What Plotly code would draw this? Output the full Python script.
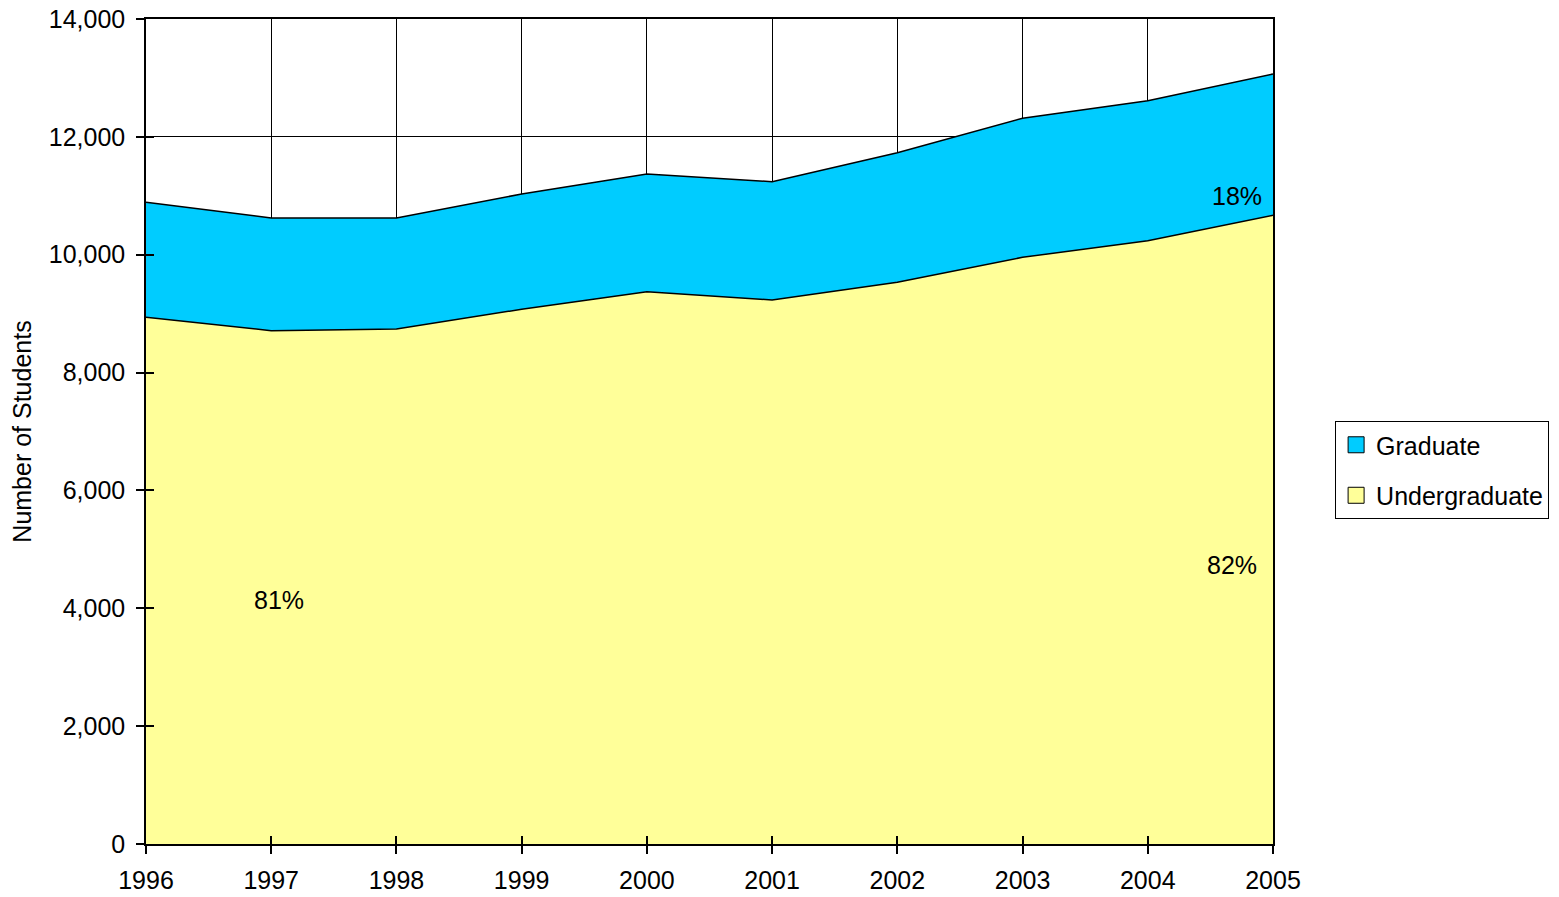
import plotly.graph_objects as go

years = [1996, 1997, 1998, 1999, 2000, 2001, 2002, 2003, 2004, 2005]
undergraduate = [8938, 8711, 8740, 9074, 9373, 9232, 9532, 9956, 10238, 10669]
graduate = [1951, 1912, 1883, 1956, 1997, 2007, 2199, 2359, 2376, 2398]

label_text = ["81%", "82%", "18%"]
label_x = [1997.06, 2004.67, 2004.71]
label_y = [4140, 4735, 10996]

y_ticks = [0, 2000, 4000, 6000, 8000, 10000, 12000, 14000]
y_tick_text = ["0", "2,000", "4,000", "6,000", "8,000", "10,000", "12,000", "14,000"]

FONT = "Liberation Sans, Arial, sans-serif"
FS = 25
UG_COLOR = "#FFFF99"
GR_COLOR = "#00CCFF"

fig = go.Figure()
fig.add_trace(go.Scatter(
    x=years, y=undergraduate, name="Undergraduate", mode="lines",
    stackgroup="one", line=dict(color="black", width=1.5),
    fillcolor=UG_COLOR, showlegend=False,
))
fig.add_trace(go.Scatter(
    x=years, y=graduate, name="Graduate", mode="lines",
    stackgroup="one", line=dict(color="black", width=1.5),
    fillcolor=GR_COLOR, showlegend=False,
))

# legend entries (square swatches)
fig.add_trace(go.Scatter(
    x=[None], y=[None], name="Graduate", mode="markers", legendgroup="g",
    marker=dict(symbol="square", size=16, color=GR_COLOR, line=dict(color="black", width=1)),
))
fig.add_trace(go.Scatter(
    x=[None], y=[None], name="Undergraduate", mode="markers", legendgroup="u",
    marker=dict(symbol="square", size=16, color=UG_COLOR, line=dict(color="black", width=1)),
))

for t, xx, yy in zip(label_text, label_x, label_y):
    fig.add_annotation(x=xx, y=yy, xref="x", yref="y", text=t, showarrow=False,
                       font=dict(family=FONT, size=FS, color="black"))

# page body has an 8px margin: size the figure to fill the rest of the window
fig.update_layout(
    width=1551, height=889,
    margin=dict(l=138, r=286, t=11, b=53, autoexpand=False),
    paper_bgcolor="white", plot_bgcolor="white",
    font=dict(family=FONT, size=FS, color="black"),
    showlegend=True,
    legend=dict(
        x=1.0551, y=0.5127, xanchor="left", yanchor="top",
        traceorder="grouped", tracegroupgap=15,
        bordercolor="black", borderwidth=1, bgcolor="white",
        font=dict(family=FONT, size=FS, color="black"),
        itemwidth=30,
    ),
    xaxis=dict(
        range=[1996, 2005], tickmode="array", tickvals=years,
        ticktext=[str(y) for y in years], automargin=False,
        showgrid=True, gridcolor="black", gridwidth=1,
        showline=True, linecolor="black", linewidth=1.5, mirror=True,
        ticks="outside", ticklen=8, tickcolor="black", tickwidth=1.5,
        zeroline=False, ticklabelstandoff=5, ticklabeloverflow="allow",
        tickfont=dict(family=FONT, size=FS),
    ),
    yaxis=dict(
        range=[0, 14000], tickmode="array", tickvals=y_ticks, ticktext=y_tick_text,
        automargin=False,
        showgrid=True, gridcolor="black", gridwidth=1,
        showline=True, linecolor="black", linewidth=1.5, mirror=True,
        ticks="outside", ticklen=8, tickcolor="black", tickwidth=1.5,
        zeroline=False, ticklabelstandoff=6, ticklabeloverflow="allow",
        tickfont=dict(family=FONT, size=FS),
        title=dict(text="Number of Students", standoff=10,
                   font=dict(family=FONT, size=FS)),
    ),
    xaxis2=dict(
        range=[1996, 2005], overlaying="x", side="bottom", tickmode="array",
        tickvals=years, showticklabels=False, showgrid=False, zeroline=False,
        ticks="inside", ticklen=8, tickcolor="black", tickwidth=1.5,
        showline=False, automargin=False,
    ),
    yaxis2=dict(
        range=[0, 14000], overlaying="y", side="left", tickmode="array",
        tickvals=y_ticks, showticklabels=False, showgrid=False, zeroline=False,
        ticks="inside", ticklen=8, tickcolor="black", tickwidth=1.5,
        showline=False, automargin=False,
    ),
)

# invisible trace to activate secondary axes for the crossing tick marks
fig.add_trace(go.Scatter(x=[years[0]], y=[0], xaxis="x2", yaxis="y2",
                         mode="markers", marker=dict(opacity=0), showlegend=False,
                         hoverinfo="skip"))

fig.write_html("out.html")
